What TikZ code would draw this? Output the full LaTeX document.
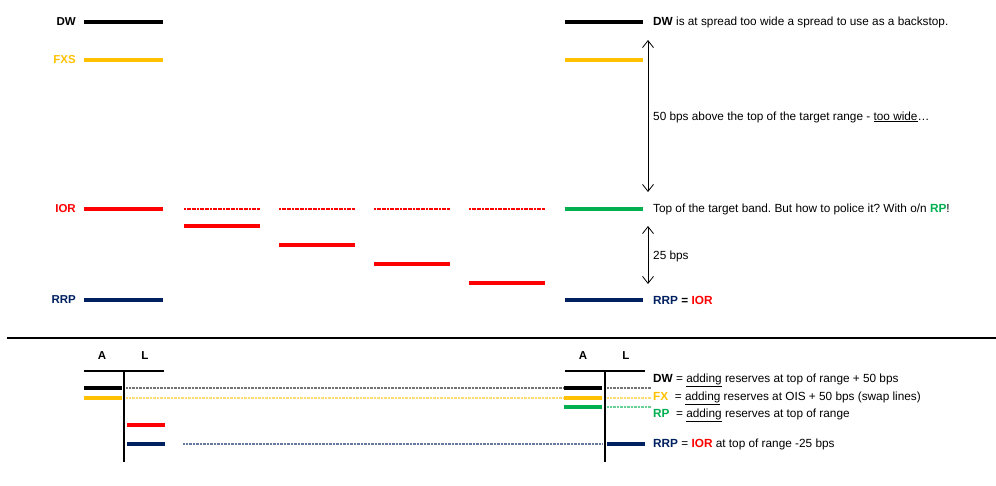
\documentclass[tikz,border=0pt]{standalone}
\usepackage{fontspec}
\setmainfont{Liberation Sans}
\usetikzlibrary{arrows.meta}
\definecolor{fyel}{HTML}{FFC000}
\definecolor{fred}{HTML}{FF0000}
\definecolor{fgrn}{HTML}{00B050}
\definecolor{fnavy}{HTML}{002060}
\frenchspacing
\begin{document}
\begin{tikzpicture}[x=1pt,y=-1pt,
  bar/.style={line width=4pt},
  rule/.style={line width=1.5pt},
  lab/.style={anchor=east, font=\fontsize{11.5}{13}\selectfont\bfseries, inner sep=0pt},
  hdr/.style={font=\fontsize{11.5}{13}\selectfont\bfseries, inner sep=0pt},
  txt/.style={anchor=west, font=\fontsize{11.8}{13}\selectfont, inner sep=0pt},
  dbl/.style={{Straight Barb[length=7pt,width=11pt]}-{Straight Barb[length=7pt,width=11pt]}, line width=0.8pt},
  ghost/.style={line width=1.4pt, dash pattern=on 1pt off 0.4pt},
  redghost/.style={line width=2pt, fred, dash pattern=on 2pt off 0.6pt},
]
\useasboundingbox (0,0) rectangle (996,485);

% ---------- top section, left ----------
\node[lab] (lDW) at (76,22) {DW};
\node[lab, text=fyel] (lFXS) at (76,60) {FXS};
\node[lab, text=fred] (lIOR) at (76,209) {IOR};
\node[lab, text=fnavy] (lRRP) at (76,300) {RRP};

\draw[bar] (84,22) -- (163,22);
\draw[bar, fyel] (84,60) -- (163,60);
\draw[bar, fred] (84,209) -- (163,209);
\draw[bar, fnavy] (84,300) -- (163,300);

% steps of IOR
\draw[redghost] (184,209) -- (260,209);
\draw[redghost] (279,209) -- (355,209);
\draw[redghost] (374,209) -- (450,209);
\draw[redghost] (469,209) -- (545,209);
\draw[bar, fred] (184,226) -- (260,226);
\draw[bar, fred] (279,245) -- (355,245);
\draw[bar, fred] (374,264) -- (450,264);
\draw[bar, fred] (469,283) -- (545,283);

% ---------- top section, right ----------
\draw[bar] (565,22) -- (643,22);
\draw[bar, fyel] (565,60) -- (643,60);
\draw[bar, fgrn] (565,209) -- (643,209);
\draw[bar, fnavy] (565,300) -- (643,300);

\coordinate (a1t) at (648,40);
\coordinate (a1b) at (648,192);
\coordinate (a2t) at (648,226);
\coordinate (a2b) at (648,284);
\draw[dbl] (a1t) -- (a1b);
\draw[dbl] (a2t) -- (a2b);

\node[txt] (tDW) at (653,22) {\textbf{DW} is at spread too wide a spread to use as a backstop.};
\node[txt] (t50) at (653,117) {50 bps above the top of the target range - \underline{too wide}\ldots};
\node[txt] (tTop) at (653,209) {Top of the target band. But how to police it? With o/n \textbf{\color{fgrn}RP}!};
\node[txt] (t25) at (653,256) {25 bps};
\node[txt] (tRRP) at (653,300) {\textbf{\color{fnavy}RRP} \textbf{=} \textbf{\color{fred}IOR}};

% ---------- separator ----------
\draw[rule] (7,338) -- (996,338);

% ---------- bottom left T-account ----------
\node[hdr] (A1) at (102,356) {A};
\node[hdr] (L1) at (145,356) {L};
\draw[rule] (84,371) -- (164,371);
\draw[rule] (124,371) -- (124,462);
\draw[bar] (84,388) -- (122,388);
\draw[bar, fyel] (84,398) -- (122,398);
\draw[bar, fred] (127,425) -- (165,425);
\draw[bar, fnavy] (127,444) -- (165,444);

% ---------- bottom right T-account ----------
\node[hdr] (A2) at (583,356) {A};
\node[hdr] (L2) at (626,356) {L};
\draw[rule] (565,371) -- (645,371);
\draw[rule] (605,371) -- (605,462);
\draw[bar] (564,388) -- (602,388);
\draw[bar, fyel] (564,398) -- (602,398);
\draw[bar, fgrn] (564,407) -- (602,407);
\draw[bar, fnavy] (607,444) -- (645,444);

% ---------- connectors between balance sheets ----------
\coordinate (g1a) at (126,388); \coordinate (g1b) at (564,388);
\coordinate (g2a) at (126,398); \coordinate (g2b) at (564,398);
\coordinate (g3a) at (183,444); \coordinate (g3b) at (602,444);
\coordinate (g4a) at (607,388); \coordinate (g4b) at (651,388);
\coordinate (g5a) at (607,398); \coordinate (g5b) at (651,398);
\coordinate (g6a) at (607,407); \coordinate (g6b) at (651,407);
\draw[ghost, black!55] (g1a) -- (g1b);
\draw[ghost, fyel!55] (g2a) -- (g2b);
\draw[ghost, fnavy!60] (g3a) -- (g3b);
\draw[ghost, black!55] (g4a) -- (g4b);
\draw[ghost, fyel!55] (g5a) -- (g5b);
\draw[ghost, fgrn!60] (g6a) -- (g6b);

\node[txt] (bDW) at (653,380) {\textbf{DW} = \underline{adding} reserves at top of range + 50 bps};
\node[txt] (bFX) at (653,398) {\textbf{\color{fyel}FX}\ \ = \underline{adding} reserves at OIS + 50 bps (swap lines)};
\node[txt] (bRP) at (653,415) {\textbf{\color{fgrn}RP}\ \ = \underline{adding} reserves at top of range};
\node[txt] (bRRP) at (653,444) {\textbf{\color{fnavy}RRP} = \textbf{\color{fred}IOR} at top of range -25 bps};
\end{tikzpicture}
\end{document}
